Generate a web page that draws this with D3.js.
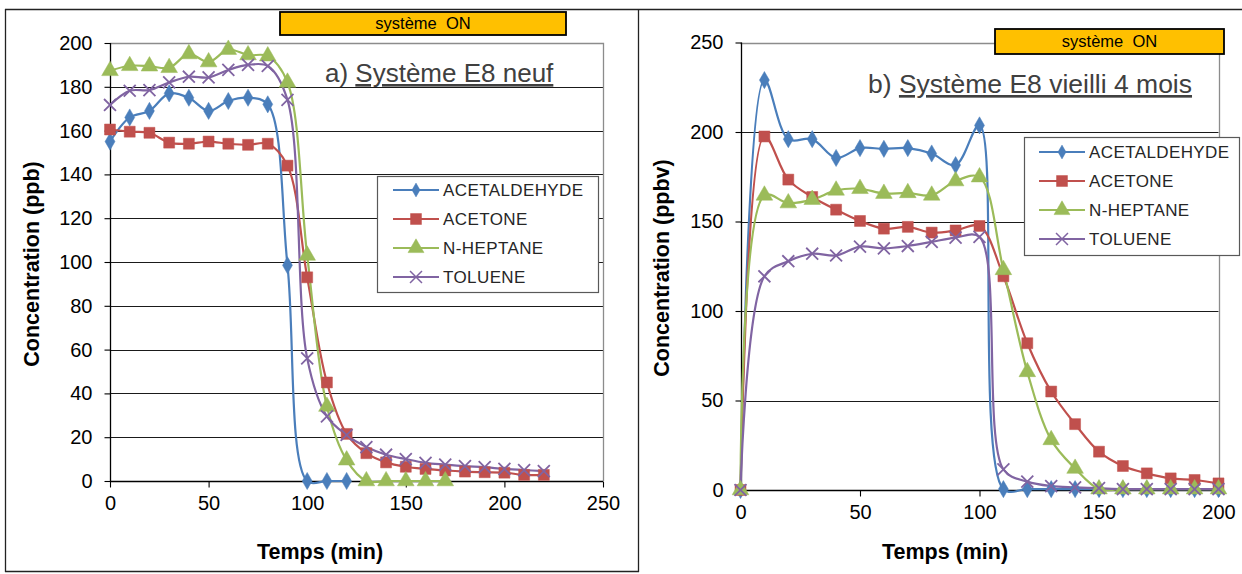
<!DOCTYPE html>
<html><head><meta charset="utf-8">
<script src="https://cdn.jsdelivr.net/npm/d3@7"></script>
<style>
html,body{margin:0;padding:0;background:#fff;}
svg{display:block;font-family:"Liberation Sans",Arial,sans-serif;}
</style></head>
<body>
<svg id="chart" width="1242" height="574"></svg>
<script>
// ---------- DATA ----------
const seriesNames = ["ACETALDEHYDE", "ACETONE", "N-HEPTANE", "TOLUENE"];
const seriesColors = ["#4A7EBB", "#C0504D", "#9BBB59", "#8064A2"];

const leftTimes = [0,10,20,30,40,50,60,70,80,90,100,110,120,130,140,150,160,170,180,190,200,210,220];
const leftAcetaldehyde = [155,166,169,177,175,169,173.5,175,172,98.5,0,0,0];
const leftAcetone = [160.5,159.5,159,154.5,154,155,154,153.5,154,144,93,45,21.5,12.7,8.5,6.5,5.5,4.8,4.3,4,3.8,2.8,2.8];
const leftHeptane = [187.3,189.6,189.4,188.7,195,191.3,197,194.5,194,182,103,34,9.5,0,0,0,0,0];
const leftToluene = [171.7,178.2,178.5,182,184.6,184.3,187.7,190,189.5,174,56,29.5,21,15.5,12,10,8.3,7.5,6.8,6.3,5.5,5,4.5];

const rightTimes = [0,10,20,30,40,50,60,70,80,90,100,110,120,130,140,150,160,170,180,190,200];
const rightAcetaldehyde = [0,229,196,196,185.5,191,190.6,191,188,181.5,203.7,0.5,0.5,0.5,0.5,0.5,0.5,0.5,0.5,0.5,0.5];
const rightAcetone = [0,197.5,173.4,163.7,156.6,150.3,146,147,143.8,145,147.5,119.4,82,55,36.8,21.4,13.4,9.3,6.5,5.6,3.7];
const rightHeptane = [0,164.6,160.3,162.2,167.4,168.3,165.6,166,164.6,172.6,174.8,123,66,28,12,0.5,0.5,0.5,0.5,0.5,0.5];
const rightToluene = [0,119.4,127.8,132,131,136,135,136.3,138.6,141,141.4,11.5,4.7,2.2,1.5,1,0.5,0.5,0.5,0.5,0.5];

const leftXTicks = [0,50,100,150,200,250];
const leftYTicks = [0,20,40,60,80,100,120,140,160,180,200];
const rightXTicks = [0,50,100,150,200];
const rightYTicks = [0,50,100,150,200,250];

const leftTitle = ["a) ", "Système E8 neuf"];
const rightTitle = ["b) ", "Système E8 vieilli 4 mois"];
const onLabel = "système  ON";
const xTitle = "Temps (min)";
const leftYTitle = "Concentration (ppb)";
const rightYTitle = "Concentration (ppbv)";

// ---------- DRAW ----------
const svg = d3.select("#chart");

// frames
svg.append("line").attr("x1",5).attr("x2",1242).attr("y1",9.5).attr("y2",9.5).attr("stroke","#222").attr("stroke-width",1.3);
svg.append("line").attr("x1",5.5).attr("x2",5.5).attr("y1",9).attr("y2",572).attr("stroke","#222").attr("stroke-width",1.3);
svg.append("line").attr("x1",638.5).attr("x2",638.5).attr("y1",9).attr("y2",572).attr("stroke","#222").attr("stroke-width",1.3);
svg.append("line").attr("x1",5).attr("x2",639).attr("y1",571.5).attr("y2",571.5).attr("stroke","#222").attr("stroke-width",1.3);

function symbolFor(i){
  return [d3.symbolDiamond, d3.symbolSquare, d3.symbolTriangle, d3.symbolTimes][i];
}

function drawPanel(cfg){
  const x = d3.scaleLinear().domain(cfg.xDomain).range([cfg.x0, cfg.x1]);
  const y = d3.scaleLinear().domain(cfg.yDomain).range([cfg.y0, cfg.y1]);
  const g = svg.append("g");

  // gridlines
  g.append("g").selectAll("line").data(cfg.yTicks.filter(v=>v>cfg.yDomain[0] && v<cfg.yDomain[1]))
    .join("line")
    .attr("x1", cfg.x0).attr("x2", cfg.x1)
    .attr("y1", d=>Math.round(y(d))+0.5).attr("y2", d=>Math.round(y(d))+0.5)
    .attr("stroke","#1a1a1a").attr("stroke-width",1);
  // plot border top/right
  g.append("path")
    .attr("d", `M${cfg.x0},${Math.round(cfg.y1)+0.5}H${Math.round(cfg.x1)+0.5}V${cfg.y0}`)
    .attr("fill","none").attr("stroke","#8c8c8c").attr("stroke-width",1.3);

  // axes
  const xAxis = d3.axisBottom(x).tickValues(cfg.xTicks).tickSize(6).tickPadding(8).tickFormat(d3.format("d"));
  const yAxis = d3.axisLeft(y).tickValues(cfg.yTicks).tickSize(6).tickPadding(12).tickFormat(d3.format("d"));
  const gx = g.append("g").attr("transform",`translate(0,${Math.round(cfg.y0)+0.5})`).call(xAxis);
  const gy = g.append("g").attr("transform",`translate(${Math.round(cfg.x0)+0.5},0)`).call(yAxis);
  [gx,gy].forEach(a=>{
    a.selectAll("path.domain").attr("stroke","#000").attr("stroke-width",1.3);
    a.selectAll(".tick line").attr("stroke","#000").attr("stroke-width",1.1);
    a.selectAll(".tick text").attr("font-size",20).attr("fill","#000")
      .attr("font-family",'"Liberation Sans",Arial,sans-serif');
  });
  gx.selectAll(".tick text").attr("dy", "0.71em").attr("y", cfg.xLabelOffset);
  gx.select("path.domain").attr("d", `M${cfg.x0},0H${cfg.x1}`);
  gy.select("path.domain").attr("d", `M0,${cfg.y0}V${cfg.y1}`);

  // series
  const line = d3.line().x(d=>x(d[0])).y(d=>y(d[1])).curve(d3.curveCatmullRom.alpha(0.5));
  cfg.series.forEach((vals,i)=>{
    const pts = vals.map((v,k)=>[cfg.times[k], v]);
    g.append("path").datum(pts).attr("d", line)
      .attr("fill","none").attr("stroke",seriesColors[i]).attr("stroke-width",2.2);
  });
  cfg.series.forEach((vals,i)=>{
    const pts = vals.map((v,k)=>[cfg.times[k], v]);
    const sizes = [85, 120, 120, 95];
    const sym = d3.symbol().type(symbolFor(i)).size(sizes[i]);
    g.append("g").selectAll("path").data(pts).join("path")
      .attr("transform", d=>`translate(${x(d[0])},${y(d[1])})`)
      .attr("d", sym)
      .attr("fill", i===3 ? "none" : seriesColors[i])
      .attr("stroke", seriesColors[i])
      .attr("stroke-width", i===3 ? 1.8 : 0.5);
  });

  // legend
  const lg = g.append("g");
  lg.append("rect").attr("x",cfg.leg.x+0.5).attr("y",cfg.leg.y+0.5).attr("width",cfg.leg.w).attr("height",cfg.leg.h)
    .attr("fill","#fff").attr("stroke","#595959").attr("stroke-width",1.2);
  seriesNames.forEach((nm,i)=>{
    const yy = cfg.leg.rows[i];
    lg.append("line").attr("x1",cfg.leg.lx1).attr("x2",cfg.leg.lx2).attr("y1",yy).attr("y2",yy)
      .attr("stroke",seriesColors[i]).attr("stroke-width",2.2);
    const sizes = [55, 120, 110, 95];
    lg.append("path").attr("transform",`translate(${(cfg.leg.lx1+cfg.leg.lx2)/2},${yy})`)
      .attr("d", d3.symbol().type(symbolFor(i)).size(sizes[i]))
      .attr("fill", i===3 ? "none" : seriesColors[i])
      .attr("stroke", seriesColors[i]).attr("stroke-width", i===3 ? 1.5 : 0.5);
    lg.append("text").attr("x",cfg.leg.tx).attr("y",yy).attr("dy","0.36em")
      .attr("font-size",17).attr("fill","#262626").attr("letter-spacing",0.4).text(nm);
  });

  // title
  const t = g.append("text").attr("x",cfg.titleX).attr("y",cfg.titleY).attr("font-size",cfg.titleSize).attr("fill","#404040");
  t.append("tspan").text(cfg.title[0]);
  t.append("tspan").attr("text-decoration","underline").style("text-decoration","underline").text(cfg.title[1]);

  // système ON box
  g.append("rect").attr("x",cfg.on.x).attr("y",cfg.on.y).attr("width",cfg.on.w).attr("height",cfg.on.h)
    .attr("fill","#FFC000").attr("stroke","#000").attr("stroke-width",1.8);
  g.append("text").attr("x",cfg.on.x+cfg.on.w/2).attr("y",cfg.on.y+cfg.on.h/2).attr("dy","0.36em")
    .attr("text-anchor","middle").attr("font-size",16.5).attr("fill","#000")
    .style("white-space","pre").attr("xml:space","preserve").text(onLabel);

  // axis titles
  g.append("text").attr("x",cfg.xtX).attr("y",cfg.xtY).attr("text-anchor","middle")
    .attr("font-size",21.5).attr("font-weight","bold").attr("fill","#000").text(xTitle);
  g.append("text").attr("transform",`translate(${cfg.ytX},${cfg.ytY}) rotate(-90)`).attr("text-anchor","middle")
    .attr("font-size",21.5).attr("font-weight","bold").attr("fill","#000").text(cfg.yTitle);
}

drawPanel({
  xDomain:[0,250], yDomain:[0,200], x0:110, x1:603, y0:481, y1:43,
  xTicks:leftXTicks, yTicks:leftYTicks, xLabelOffset:14,
  times:leftTimes, series:[leftAcetaldehyde,leftAcetone,leftHeptane,leftToluene],
  leg:{x:377,y:176,w:221,h:116,rows:[190,219,248,277],lx1:393,lx2:439,tx:443},
  title:leftTitle, titleX:325, titleY:82, titleSize:26,
  on:{x:280,y:12,w:286,h:23},
  xtX:320, xtY:559, ytX:39, ytY:264, yTitle:leftYTitle
});

drawPanel({
  xDomain:[0,200], yDomain:[0,250], x0:740.5, x1:1218.5, y0:490, y1:42.5,
  xTicks:rightXTicks, yTicks:rightYTicks, xLabelOffset:14,
  times:rightTimes, series:[rightAcetaldehyde,rightAcetone,rightHeptane,rightToluene],
  leg:{x:1024,y:137,w:215,h:118,rows:[152,181,210,239],lx1:1039,lx2:1085,tx:1089},
  title:rightTitle, titleX:868, titleY:93, titleSize:26.5,
  on:{x:995,y:29,w:229,h:25},
  xtX:945, xtY:559, ytX:669, ytY:268, yTitle:rightYTitle
});
</script>
</body></html>
